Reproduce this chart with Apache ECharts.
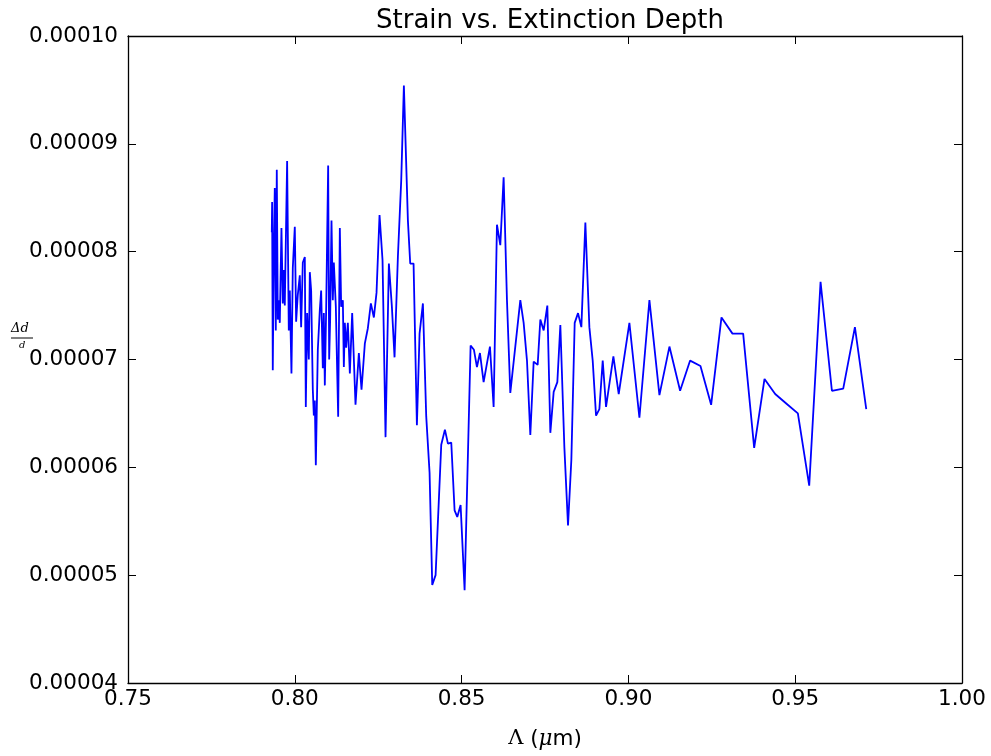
<!DOCTYPE html>
<html>
<head>
<meta charset="utf-8">
<script src="https://cdn.jsdelivr.net/npm/echarts@6/dist/echarts.min.js"></script>
<style>
html,body{margin:0;padding:0;background:#fff;}
#chart{width:991px;height:756px;}
</style>
</head>
<body>
<div id="chart"></div>
<script>
// Extinction depth Λ (µm)
const lambdaUm = [
0.7931,0.7932,0.7934,0.7937,0.7940,0.7943,0.7946,0.7949,0.7952,0.7955,
0.7960,0.7964,0.7967,0.7970,0.7977,0.7982,0.7985,0.7990,0.7994,0.8000,
0.8004,0.8009,0.8015,0.8019,0.8024,0.8030,0.8033,0.8037,0.8042,0.8045,
0.8049,0.8054,0.8057,0.8060,0.8063,0.8069,0.8075,0.8079,0.8084,0.8087,
0.8090,0.8094,0.8100,0.8103,0.8106,0.8110,0.8114,0.8117,0.8123,0.8127,
0.8130,0.8135,0.8139,0.8144,0.8147,0.8150,0.8154,0.8159,0.8165,0.8172,
0.8182,0.8192,0.8200,0.8210,0.8219,0.8228,0.8237,0.8245,0.8254,0.8263,
0.8272,0.8282,0.8291,0.8299,0.8309,0.8319,0.8327,0.8339,0.8346,0.8356,
0.8366,0.8374,0.8384,0.8394,0.8404,0.8412,0.8422,0.8439,0.8450,0.8459,
0.8469,0.8479,0.8487,0.8497,0.8509,0.8527,0.8537,0.8546,0.8555,0.8566,
0.8585,0.8596,0.8606,0.8616,0.8626,0.8636,0.8646,0.8676,0.8686,0.8696,
0.8706,0.8716,0.8728,0.8736,0.8746,0.8757,0.8766,0.8776,0.8787,0.8796,
0.8808,0.8819,0.8829,0.8839,0.8849,0.8859,0.8871,0.8883,0.8893,0.8903,
0.8913,0.8923,0.8933,0.8955,0.8971,0.9003,0.9033,0.9063,0.9093,0.9123,
0.9155,0.9185,0.9216,0.9248,0.9279,0.9312,0.9344,0.9377,0.9408,0.9440,
0.9474,0.9508,0.9542,0.9576,0.9610,0.9644,0.9679,0.9713
];
// Strain Δd/d
const strain = [
8.18e-5,8.46e-5,6.90e-5,8.01e-5,8.59e-5,7.27e-5,8.76e-5,7.37e-5,7.55e-5,7.34e-5,
8.22e-5,7.52e-5,7.83e-5,7.50e-5,8.84e-5,7.27e-5,7.64e-5,6.87e-5,7.85e-5,8.23e-5,
7.35e-5,7.60e-5,7.78e-5,7.30e-5,7.90e-5,7.95e-5,6.56e-5,7.43e-5,7.00e-5,7.81e-5,
7.64e-5,6.72e-5,6.48e-5,6.62e-5,6.02e-5,7.09e-5,7.46e-5,7.64e-5,6.92e-5,7.43e-5,
6.76e-5,7.46e-5,8.80e-5,7.00e-5,7.37e-5,8.29e-5,7.55e-5,7.90e-5,7.49e-5,6.90e-5,
6.47e-5,8.22e-5,7.49e-5,7.55e-5,6.93e-5,7.34e-5,7.11e-5,7.34e-5,6.87e-5,7.43e-5,
6.58e-5,7.06e-5,6.72e-5,7.15e-5,7.29e-5,7.52e-5,7.39e-5,7.62e-5,8.34e-5,7.92e-5,
6.28e-5,7.89e-5,7.49e-5,7.02e-5,7.95e-5,8.66e-5,9.54e-5,8.29e-5,7.89e-5,7.89e-5,
6.39e-5,7.24e-5,7.52e-5,6.47e-5,5.95e-5,4.91e-5,5.00e-5,6.21e-5,6.35e-5,6.22e-5,
6.23e-5,5.60e-5,5.54e-5,5.65e-5,4.86e-5,7.13e-5,7.09e-5,6.93e-5,7.06e-5,6.79e-5,
7.12e-5,6.56e-5,8.25e-5,8.06e-5,8.69e-5,7.55e-5,6.69e-5,7.55e-5,7.34e-5,6.99e-5,
6.30e-5,6.98e-5,6.95e-5,7.37e-5,7.27e-5,7.50e-5,6.32e-5,6.70e-5,6.79e-5,7.32e-5,
6.19e-5,5.46e-5,6.07e-5,7.34e-5,7.43e-5,7.30e-5,8.27e-5,7.30e-5,6.99e-5,6.48e-5,
6.54e-5,6.99e-5,6.56e-5,7.03e-5,6.68e-5,7.34e-5,6.46e-5,7.55e-5,6.67e-5,7.12e-5,
6.71e-5,6.99e-5,6.94e-5,6.58e-5,7.39e-5,7.24e-5,7.24e-5,6.18e-5,6.82e-5,6.68e-5,
6.59e-5,6.50e-5,5.83e-5,7.72e-5,6.71e-5,6.73e-5,7.30e-5,6.54e-5
];
const xTicks = [0.75, 0.80, 0.85, 0.90, 0.95, 1.00];
const yTicks = [0.00004, 0.00005, 0.00006, 0.00007, 0.00008, 0.00009, 0.00010];

const FONT = 'DejaVu Sans';
const chart = echarts.init(document.getElementById('chart'), null, {renderer: 'canvas'});
const pairs = lambdaUm.map((x, i) => [x, strain[i]]);
const tickStyle = {show: true, inside: true, length: 8, lineStyle: {color: '#000', width: 1}};
const lineStyle = {show: true, lineStyle: {color: '#000', width: 1.3}};

chart.setOption({
  animation: false,
  backgroundColor: '#fff',
  title: {
    text: 'Strain vs. Extinction Depth',
    left: 545, top: 3, textAlign: 'center',
    textStyle: {fontFamily: FONT, fontSize: 26, fontWeight: 'normal', color: '#000'}
  },
  grid: {left: 128, right: 29, top: 36, bottom: 73, containLabel: false},
  xAxis: [{
    type: 'value', min: 0.75, max: 1.0, interval: 0.05, position: 'bottom',
    axisLine: lineStyle, axisTick: tickStyle, splitLine: {show: false},
    axisLabel: {fontFamily: FONT, fontSize: 21.5, color: '#000', margin: 5,
      formatter: v => v.toFixed(2)},
    name: '{s|Λ}{n| (}{m|μ}{n|m)}', nameLocation: 'middle', nameGap: 45,
    nameTextStyle: {rich: {
      s: {fontFamily: 'DejaVu Serif', fontSize: 21, color: '#000'},
      n: {fontFamily: FONT, fontSize: 21.5, color: '#000'},
      m: {fontFamily: 'DejaVu Serif', fontStyle: 'italic', fontSize: 21.5, color: '#000'}
    }}
  }, {
    type: 'value', min: 0.75, max: 1.0, interval: 0.05, position: 'top',
    axisLine: lineStyle, axisTick: tickStyle, axisLabel: {show: false}, splitLine: {show: false}
  }],
  yAxis: [{
    type: 'value', min: 0.00004, max: 0.0001, interval: 0.00001, position: 'left',
    axisLine: lineStyle, axisTick: tickStyle, splitLine: {show: false},
    axisLabel: {fontFamily: FONT, fontSize: 21.5, color: '#000', margin: 10,
      formatter: v => v.toFixed(5)}
  }, {
    type: 'value', min: 0.00004, max: 0.0001, interval: 0.00001, position: 'right',
    axisLine: lineStyle, axisTick: tickStyle, axisLabel: {show: false}, splitLine: {show: false}
  }],
  graphic: [
    {type: 'text', left: 11, top: 322, style: {text: 'Δd', fontFamily: 'DejaVu Serif', fontStyle: 'italic', fontSize: 13, fill: '#000'}},
    {type: 'line', shape: {x1: 11, y1: 338, x2: 33, y2: 338}, style: {stroke: '#000', lineWidth: 1}},
    {type: 'text', left: 19, top: 340, style: {text: 'd', fontFamily: 'DejaVu Serif', fontStyle: 'italic', fontSize: 10, fill: '#000'}}
  ],
  series: [{
    type: 'line', xAxisIndex: 0, yAxisIndex: 0, data: pairs,
    showSymbol: false, symbol: 'none',
    lineStyle: {color: '#0000ff', width: 1.8}
  }]
});
</script>
</body>
</html>
